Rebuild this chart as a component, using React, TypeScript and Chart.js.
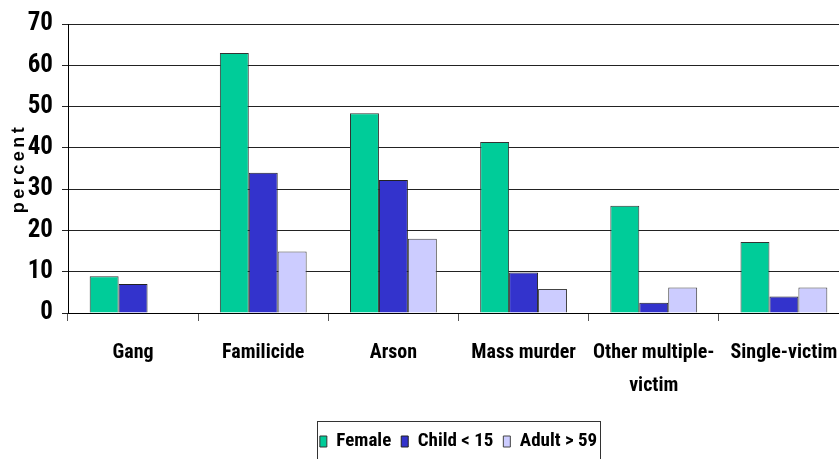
import React, { useEffect, useRef } from "react";
import { Chart, registerables } from "chart.js";

Chart.register(...registerables);

const categories: (string | string[])[] = [
  "Gang",
  "Familicide",
  "Arson",
  "Mass murder",
  ["Other multiple-", "victim"],
  "Single-victim",
];
const femaleValues: (number | null)[] = [8.9, 63, 48.4, 41.4, 26, 17.2];
const childValues: (number | null)[] = [7, 34, 32.2, 9.8, 2.5, 4];
const adultValues: (number | null)[] = [null, 14.9, 18, 5.8, 6.2, 6.2];
const seriesNames = ["Female", "Child < 15", "Adult > 59"];
const yTicks = [0, 10, 20, 30, 40, 50, 60, 70];

const NARROW = "'Roboto Condensed', Roboto, 'Liberation Sans', sans-serif";
const WIDE = "'Liberation Sans', Arial, sans-serif";
const CBOLD = "bold condensed";

const legendBorder = {
  id: "legendBorder",
  afterDraw(chart: any) {
    const l = chart.legend;
    if (!l || !l.legendHitBoxes || !l.legendHitBoxes.length) return;
    const hb = l.legendHitBoxes;
    let left = Infinity;
    let right = -Infinity;
    hb.forEach((b: any) => {
      left = Math.min(left, b.left);
      right = Math.max(right, b.left + b.width);
    });
    const ctx = chart.ctx;
    ctx.save();
    ctx.strokeStyle = "#333";
    ctx.lineWidth = 1;
    ctx.strokeRect(Math.round(left - 3) + 0.5, Math.round(l.top - 1) + 0.5, Math.round(right - left + 6), 60);
    ctx.restore();
  },
};

const spacedTitle = {
  id: "spacedTitle",
  beforeDraw(chart: any) {
    const s = chart.scales.y;
    if (s && !s.__patched) {
      const orig = s.drawTitle.bind(s);
      s.drawTitle = function () {
        const ctx = this.ctx;
        const prev = ctx.letterSpacing;
        ctx.letterSpacing = "3.5px";
        orig();
        ctx.letterSpacing = prev || "0px";
      };
      s.__patched = true;
    }
  },
};

export default function App() {
  const ref = useRef<HTMLCanvasElement | null>(null);
  useEffect(() => {
    if (!ref.current) return;
    const chart = new Chart(ref.current, {
      type: "bar",
      data: {
        labels: categories as any,
        datasets: [
          {
            label: seriesNames[0],
            data: femaleValues,
            backgroundColor: "#00CC99",
            borderColor: "#333333",
            borderWidth: 1,
          },
          {
            label: seriesNames[1],
            data: childValues,
            backgroundColor: "#3333CC",
            borderColor: "#222222",
            borderWidth: 1,
          },
          {
            label: seriesNames[2],
            data: adultValues,
            backgroundColor: "#CCCCFF",
            borderColor: "#444444",
            borderWidth: 1,
          },
        ],
      },
      options: {
        responsive: false,
        animation: false,
        devicePixelRatio: 1,
        datasets: {
          bar: { categoryPercentage: 0.667, barPercentage: 1.0 },
        },
        layout: { padding: { top: 22, left: 0, right: 11, bottom: 9 } },
        plugins: {
          tooltip: { enabled: false },
          legend: {
            position: "bottom",
            fullSize: false,
            labels: {
              color: "#000",
              font: { family: NARROW, size: 19, weight: CBOLD as any },
              boxWidth: 7,
              boxHeight: 11,
              padding: 10,
            },
          },
        },
        scales: {
          x: {
            offset: true,
            grid: {
              display: true,
              drawOnChartArea: false,
              drawTicks: true,
              tickLength: 8,
              color: "#555",
              offset: true,
            },
            border: { display: true, color: "#000", width: 1 },
            ticks: {
              color: "#000",
              padding: 15,
              maxRotation: 0,
              autoSkip: false,
              font: { family: NARROW, size: 20, weight: CBOLD as any, lineHeight: 1.65 },
            },
            afterFit: (s: any) => {
              s.height = 109;
            },
          },
          y: {
            min: 0,
            max: 70,
            afterBuildTicks: (s: any) => {
              s.ticks = yTicks.map((v) => ({ value: v }));
            },
            grid: {
              color: "#222",
              lineWidth: 1,
              drawTicks: true,
              tickLength: 6,
            },
            border: { display: true, color: "#000", width: 1 },
            ticks: {
              color: "#000",
              padding: 9,
              font: { family: NARROW, size: 25, weight: CBOLD as any },
            },
            title: {
              display: true,
              text: "percent",
              color: "#000",
              font: { family: WIDE, size: 18, weight: "bold" },
              padding: { top: 8, bottom: 0 },
            },
            afterFit: (s: any) => {
              s.width = 68;
            },
          },
        },
      },
      plugins: [legendBorder, spacedTitle],
    });
    return () => chart.destroy();
  }, []);
  return (
    <div
      style={{
        position: "absolute",
        left: 0,
        top: 0,
        width: 839,
        height: 459,
        overflow: "hidden",
        background: "#fff",
      }}
    >
      <canvas ref={ref} width={860} height={470} style={{ display: "block", width: 860, height: 470 }} />
    </div>
  );
}
